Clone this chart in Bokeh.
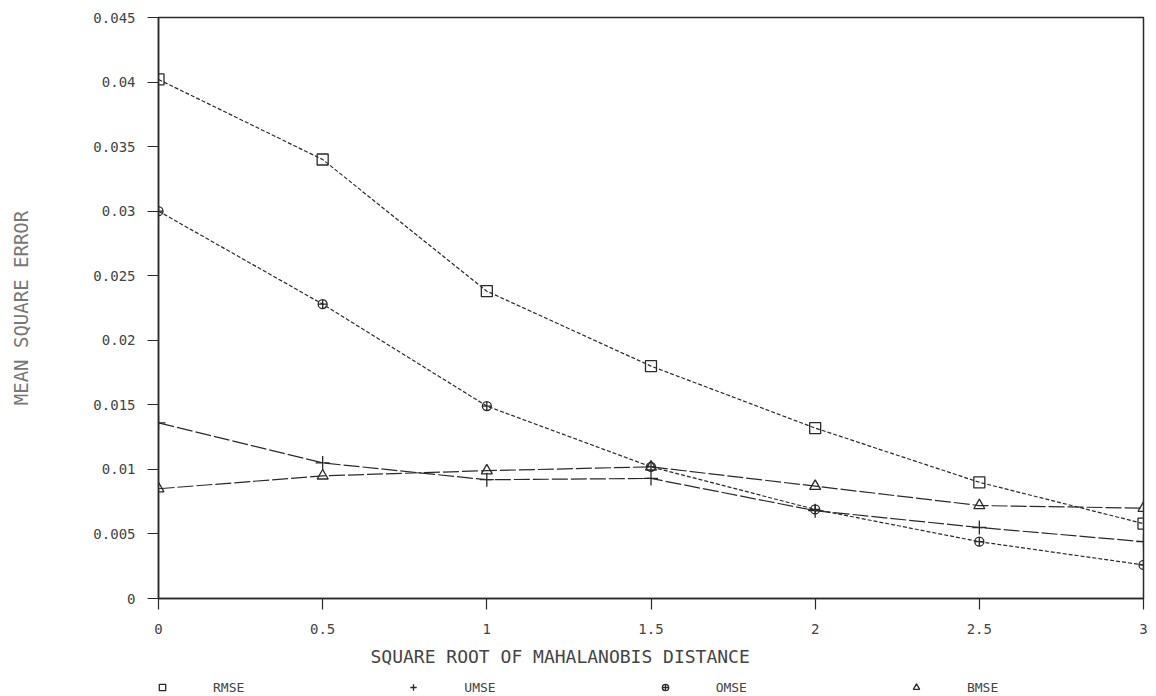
from bokeh.plotting import figure
from bokeh.layouts import column
from bokeh.models import Range1d, FixedTicker, Legend, LegendItem, Title
from bokeh.embed import file_html
from bokeh.resources import INLINE

# ---- data ----
distance = [0, 0.5, 1, 1.5, 2, 2.5, 3]
rmse = [0.0402, 0.0340, 0.0238, 0.0180, 0.0132, 0.0090, 0.0058]
umse = [0.0136, 0.0105, 0.0092, 0.0093, 0.0068, 0.0055, 0.0044]
omse = [0.0300, 0.0228, 0.0149, 0.0102, 0.0069, 0.0044, 0.0026]
bmse = [0.0085, 0.0095, 0.0099, 0.0102, 0.0087, 0.0072, 0.0070]

series_names = ["RMSE", "UMSE", "OMSE", "BMSE"]

x_ticks = [0, 0.5, 1, 1.5, 2, 2.5, 3]
x_tick_labels = ["0", "0.5", "1", "1.5", "2", "2.5", "3"]
y_ticks = [0, 0.005, 0.01, 0.015, 0.02, 0.025, 0.03, 0.035, 0.04, 0.045]
y_tick_labels = ["0", "0.005", "0.01", "0.015", "0.02", "0.025", "0.03", "0.035", "0.04", "0.045"]

x_title = "SQUARE ROOT OF MAHALANOBIS DISTANCE"
y_title = "MEAN SQUARE ERROR"

INK = "#2a2a2a"
TXT = "#444444"
FONT = "DejaVu Sans Mono"

MAIN_H = 676
LEG_H = 20

p = figure(width=1156, height=MAIN_H,
           x_range=Range1d(0, 3), y_range=Range1d(0, 0.045),
           output_backend="svg", toolbar_location=None,
           min_border_left=158, min_border_right=13,
           min_border_top=17, min_border_bottom=MAIN_H - 598)

p.background_fill_color = "white"
p.border_fill_color = "white"
p.outline_line_color = INK
p.outline_line_width = 1.5
p.xgrid.visible = False
p.ygrid.visible = False

p.xaxis.ticker = FixedTicker(ticks=x_ticks)
p.xaxis.major_label_overrides = {t: l for t, l in zip(x_ticks, x_tick_labels)}
p.yaxis.ticker = FixedTicker(ticks=y_ticks)
p.yaxis.major_label_overrides = {t: l for t, l in zip(y_ticks, y_tick_labels)}
for ax in (p.xaxis, p.yaxis):
    ax.axis_line_color = INK
    ax.axis_line_width = 1.5
    ax.major_tick_line_color = INK
    ax.major_tick_line_width = 1.2
    ax.major_tick_out = 11
    ax.major_tick_in = 0
    ax.minor_tick_line_color = None
    ax.major_label_text_font = FONT
    ax.major_label_text_font_size = "14px"
    ax.major_label_text_color = TXT
p.xaxis.major_label_standoff = 14
p.yaxis.major_label_standoff = 12

p.yaxis.axis_label = y_title
p.yaxis.axis_label_text_font = FONT
p.yaxis.axis_label_text_font_size = "19px"
p.yaxis.axis_label_text_font_style = "normal"
p.yaxis.axis_label_text_color = "#777777"
p.yaxis.axis_label_standoff = 58

styles = [
    (rmse, "square", 11, "4 2"),
    (umse, "cross", 14, "16 3"),
    (omse, "circle_cross", 9, "4 2"),
    (bmse, "triangle", 11, "16 3"),
]

for vals, marker, size, dash in styles:
    p.line(distance, vals, line_color=INK, line_width=1.2, line_dash=dash)
    p.scatter(distance, vals, marker=marker, size=size,
              line_color=INK, line_width=1.3, fill_color=None)

p.add_layout(Title(text=x_title, align="left", offset=212, standoff=14,
                   text_font=FONT, text_font_size="18px",
                   text_font_style="normal", text_color=TXT), "below")

# ---- legend strip under the chart (its frame is aligned with the chart's) ----
q = figure(width=1156, height=LEG_H, x_range=Range1d(0, 3), y_range=Range1d(0, 0.045),
           output_backend="svg", toolbar_location=None,
           x_axis_location=None, y_axis_location=None,
           min_border=0, outline_line_color=None)
q.grid.visible = False
items = []
for name, (vals, marker, size, dash) in zip(series_names, styles):
    r = q.scatter(distance[:1], vals[:1], marker=marker, size=size,
                  line_color=INK, line_width=1.3, fill_color=None, visible=False)
    items.append(LegendItem(label=name, renderers=[r]))

legend = Legend(items=items, orientation="horizontal",
                location=(-6, 1),
                glyph_width=20, glyph_height=16, label_height=16,
                label_standoff=41, spacing=159,
                padding=0, margin=0,
                border_line_color=None, background_fill_alpha=0,
                inactive_fill_alpha=0,
                label_text_font=FONT, label_text_font_size="13px",
                label_text_color=TXT)
q.add_layout(legend, "center")

layout = column(p, q, spacing=0)
open("out.html", "w").write(file_html(layout, INLINE))
